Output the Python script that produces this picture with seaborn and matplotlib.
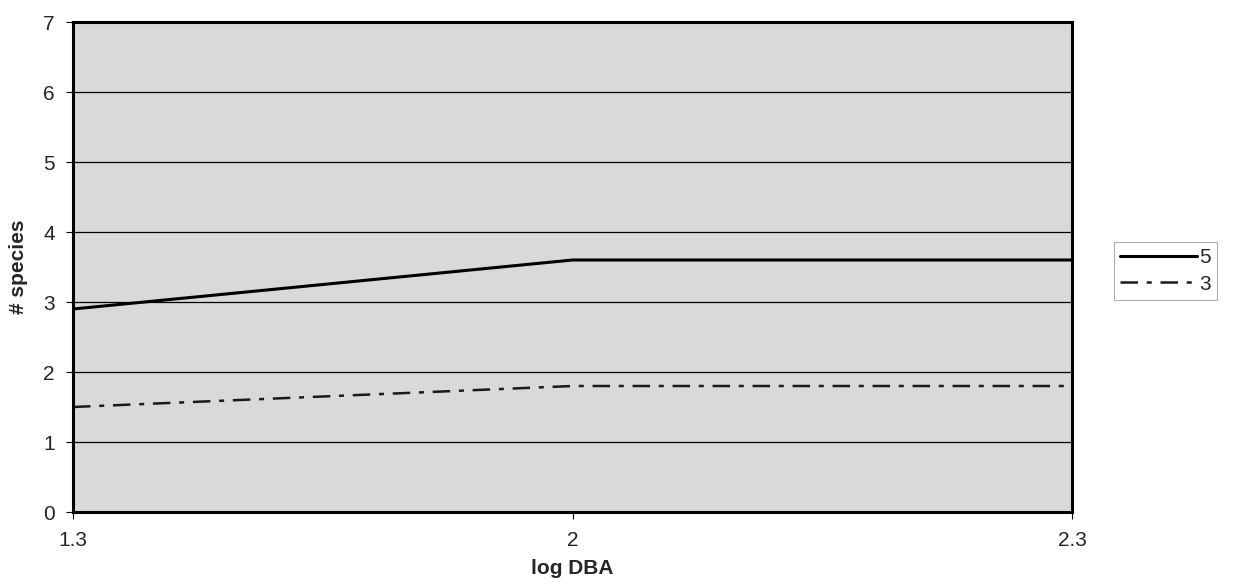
import matplotlib
matplotlib.use("Agg")
import matplotlib.pyplot as plt
import seaborn as sns
import pandas as pd

categories = ["1.3", "2", "2.3"]
series_5 = [2.9, 3.6, 3.6]
series_3 = [1.5, 1.8, 1.8]
y_ticks = [0, 1, 2, 3, 4, 5, 6, 7]

sns.set_style("white")
plt.rcParams["font.family"] = ["Liberation Sans", "DejaVu Sans"]

df5 = pd.DataFrame({"dba": categories, "species": series_5})
df3 = pd.DataFrame({"dba": categories, "species": series_3})

fig = plt.figure(figsize=(12.35, 5.88), dpi=100)
ax = fig.add_axes([73/1235, (588-512)/588, 999/1235, 490/588])
ax.set_facecolor("#d9d9d9")

sns.lineplot(data=df5, x="dba", y="species", sort=False, ax=ax, color="black",
             linewidth=2.2, label="5")
sns.lineplot(data=df3, x="dba", y="species", sort=False, ax=ax, color="#1a1a1a",
             linewidth=1.8, label="3")
ax.lines[1].set_dashes([7, 3.5, 2, 3.5])

ax.set_xlim(0, 2)
ax.set_ylim(0, 7)
ax.set_yticks(y_ticks)
ax.set_yticklabels([str(v) for v in y_ticks], fontsize=15)
ax.tick_params(axis="x", labelsize=15, length=5, direction="out", color="black", pad=9)
ax.tick_params(axis="y", length=5, direction="out", color="black", pad=8)
ax.tick_params(bottom=True, left=True)
for y in y_ticks[1:-1]:
    ax.axhline(y, color="black", linewidth=0.9, zorder=1)
for s in ax.spines.values():
    s.set_color("black")
    s.set_linewidth(2.2)

ax.set_xlabel("log DBA", fontsize=15, fontweight="bold", labelpad=6)
ax.set_ylabel("# species", fontsize=15, fontweight="bold", labelpad=11)

leg = ax.legend(loc="center left", bbox_to_anchor=(1114/1235, 1-271/588),
                bbox_transform=fig.transFigure, frameon=True, fancybox=False,
                fontsize=15, handlelength=3.7, handletextpad=0.1,
                borderpad=0.3, labelspacing=0.35, borderaxespad=0)
leg.get_frame().set_edgecolor("#999999")
leg.get_frame().set_linewidth(0.8)

fig.savefig("out.png", dpi=100, facecolor="white")
